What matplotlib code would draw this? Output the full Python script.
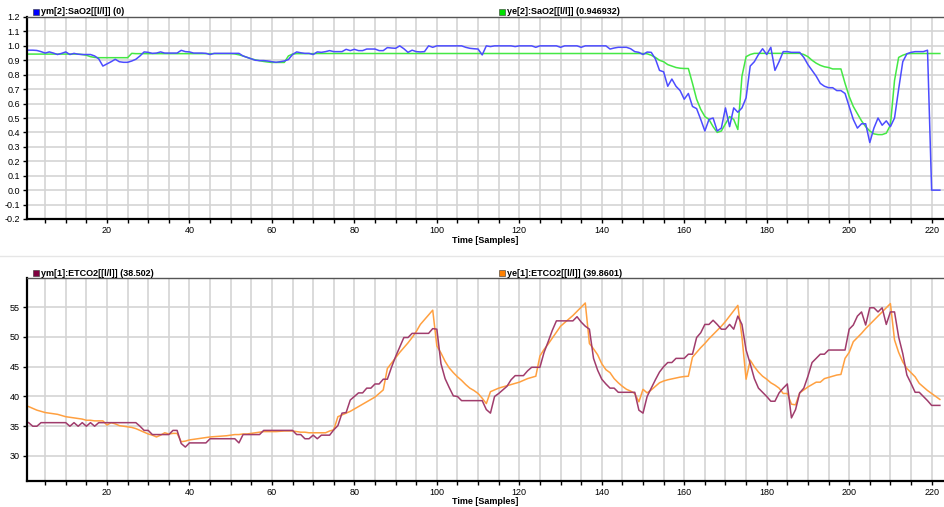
import numpy as np
import matplotlib.pyplot as plt
from matplotlib.patches import Rectangle
from matplotlib.lines import Line2D
from matplotlib.ticker import MultipleLocator, FormatStrFormatter

plt.rcParams['font.family'] = ['Liberation Sans', 'DejaVu Sans']

# sample axis shared by both panels
samples = np.arange(1, 223)

# SaO2 measured (ym[2]) and estimated (ye[2])
sao2_meas = [
    0.97, 0.97, 0.968, 0.96, 0.95, 0.958, 0.95, 0.94, 0.948, 0.958,
    0.94, 0.948, 0.942, 0.94, 0.94, 0.94, 0.93, 0.91, 0.86, 0.875,
    0.89, 0.907, 0.89, 0.886, 0.886, 0.895, 0.907, 0.93, 0.958, 0.955,
    0.948, 0.95, 0.958, 0.95, 0.95, 0.95, 0.95, 0.969, 0.96, 0.958,
    0.95, 0.95, 0.95, 0.948, 0.94, 0.948, 0.948, 0.948, 0.948, 0.948,
    0.948, 0.948, 0.93, 0.92, 0.91, 0.90, 0.898, 0.898, 0.895, 0.89,
    0.886, 0.89, 0.895, 0.905, 0.94, 0.958, 0.952, 0.948, 0.948, 0.94,
    0.958, 0.955, 0.96, 0.967, 0.96, 0.96, 0.96, 0.976, 0.967, 0.976,
    0.967, 0.967, 0.978, 0.978, 0.978, 0.967, 0.967, 0.988, 0.985, 0.983,
    1.0, 0.98, 0.955, 0.97, 0.96, 0.958, 0.96, 1.0, 0.99, 1.0,
    1.0, 1.0, 1.0, 1.0, 1.0, 1.0, 0.99, 0.983, 0.98, 0.978,
    0.937, 1.0, 0.995, 1.0, 1.0, 1.0, 1.0, 1.0, 0.995, 1.0,
    1.0, 1.0, 1.0, 0.99, 1.0, 1.0, 1.0, 1.0, 1.0, 0.99,
    1.0, 1.0, 1.0, 1.0, 0.99, 1.0, 1.0, 1.0, 1.0, 1.0,
    1.0, 0.978, 0.985, 0.99, 0.99, 0.99, 0.98, 0.96, 0.955, 0.94,
    0.957, 0.955, 0.91, 0.83, 0.82, 0.72, 0.77, 0.72, 0.69, 0.63,
    0.67, 0.58, 0.565, 0.49, 0.41, 0.49, 0.50, 0.41, 0.43, 0.57,
    0.44, 0.57, 0.54, 0.57, 0.64, 0.86, 0.89, 0.94, 0.98, 0.94,
    0.99, 0.83, 0.89, 0.96, 0.96, 0.955, 0.955, 0.955, 0.92, 0.87,
    0.83, 0.79, 0.74, 0.72, 0.71, 0.71, 0.69, 0.69, 0.67, 0.58,
    0.49, 0.43, 0.46, 0.46, 0.33, 0.43, 0.50, 0.45, 0.48, 0.44,
    0.50, 0.70, 0.89, 0.945, 0.955, 0.96, 0.96, 0.96, 0.97, 0.0,
    0.0, 0.0,
]
sao2_est = [
    0.943, 0.943, 0.943, 0.943, 0.943, 0.943, 0.943, 0.943, 0.943, 0.943,
    0.943, 0.943, 0.943, 0.94, 0.935, 0.925, 0.92, 0.918, 0.918, 0.918,
    0.918, 0.918, 0.918, 0.918, 0.918, 0.948, 0.946, 0.946, 0.946, 0.946,
    0.946, 0.946, 0.946, 0.946, 0.946, 0.946, 0.946, 0.946, 0.946, 0.946,
    0.946, 0.946, 0.946, 0.946, 0.946, 0.946, 0.946, 0.946, 0.946, 0.946,
    0.944, 0.938, 0.93, 0.92, 0.91, 0.903, 0.897, 0.892, 0.888, 0.885,
    0.885, 0.885, 0.885, 0.93, 0.943, 0.946, 0.946, 0.946, 0.946, 0.946,
    0.947, 0.947, 0.947, 0.947, 0.947, 0.947, 0.947, 0.947, 0.947, 0.947,
    0.947, 0.947, 0.947, 0.947, 0.947, 0.947, 0.947, 0.947, 0.947, 0.947,
    0.947, 0.947, 0.947, 0.947, 0.947, 0.947, 0.947, 0.947, 0.947, 0.947,
    0.947, 0.947, 0.947, 0.947, 0.947, 0.947, 0.947, 0.947, 0.947, 0.947,
    0.947, 0.947, 0.947, 0.947, 0.947, 0.947, 0.947, 0.947, 0.947, 0.947,
    0.947, 0.947, 0.947, 0.947, 0.947, 0.947, 0.947, 0.947, 0.947, 0.947,
    0.947, 0.947, 0.947, 0.947, 0.947, 0.947, 0.947, 0.947, 0.947, 0.947,
    0.947, 0.947, 0.947, 0.947, 0.947, 0.947, 0.947, 0.947, 0.947, 0.947,
    0.945, 0.935, 0.92, 0.90, 0.89, 0.87, 0.86, 0.85, 0.845, 0.843,
    0.843, 0.74, 0.63, 0.56, 0.51, 0.49, 0.44, 0.40, 0.41, 0.46,
    0.51, 0.49, 0.42, 0.79, 0.925, 0.94, 0.948, 0.948, 0.948, 0.948,
    0.948, 0.948, 0.948, 0.948, 0.948, 0.948, 0.948, 0.948, 0.94, 0.925,
    0.90, 0.88, 0.865, 0.855, 0.85, 0.84, 0.84, 0.84, 0.74, 0.65,
    0.58, 0.53, 0.48, 0.44, 0.41, 0.39, 0.385, 0.385, 0.395, 0.45,
    0.76, 0.92, 0.935, 0.945, 0.947, 0.947, 0.947, 0.947, 0.947, 0.947,
    0.947, 0.947,
]

# ETCO2 measured (ym[1]) and estimated (ye[1])
etco2_meas = [
    35.6, 35.0, 35.0, 35.6, 35.6, 35.6, 35.6, 35.6, 35.6, 35.6,
    35.0, 35.6, 35.0, 35.6, 35.0, 35.6, 35.0, 35.6, 35.6, 35.6,
    35.6, 35.6, 35.6, 35.6, 35.6, 35.6, 35.6, 35.0, 34.3, 34.3,
    33.6, 33.6, 33.6, 33.6, 33.6, 34.3, 34.3, 32.1, 31.5, 32.2,
    32.2, 32.2, 32.2, 32.2, 32.9, 32.9, 32.9, 32.9, 32.9, 32.9,
    32.9, 32.2, 33.6, 33.6, 33.6, 33.6, 33.6, 34.3, 34.3, 34.3,
    34.3, 34.3, 34.3, 34.3, 34.3, 33.6, 33.6, 32.9, 32.9, 33.5,
    32.9, 33.5, 33.5, 33.5, 34.4, 35.1, 37.2, 37.3, 39.4, 40.0,
    40.6, 40.6, 41.4, 41.4, 42.1, 42.1, 42.9, 42.9, 44.9, 46.7,
    48.3, 49.9, 49.9, 50.6, 50.6, 50.6, 50.6, 50.6, 51.4, 51.3,
    45.5, 43.0, 41.5, 40.1, 40.0, 39.3, 39.3, 39.3, 39.3, 39.3,
    39.3, 37.8, 37.2, 40.0, 40.5, 41.1, 41.7, 42.8, 43.5, 43.5,
    43.5, 44.3, 44.9, 44.9, 44.9, 47.4, 49.2, 51.1, 52.7, 52.7,
    52.7, 52.7, 52.7, 53.4, 52.5, 51.8, 51.3, 46.4, 44.4, 42.9,
    42.1, 41.4, 41.4, 40.7, 40.7, 40.7, 40.7, 40.7, 37.7, 37.2,
    40.0, 41.4, 42.8, 44.1, 45.0, 45.7, 45.7, 46.4, 46.4, 46.4,
    47.1, 47.1, 49.9, 50.7, 52.1, 52.1, 52.8, 52.1, 51.3, 51.3,
    52.1, 51.3, 53.5, 52.1, 47.8, 45.5, 43.0, 41.4, 40.7, 40.0,
    39.2, 39.2, 40.6, 41.4, 42.1, 36.4, 37.8, 40.6, 41.4, 43.4,
    45.7, 46.4, 47.1, 47.1, 47.8, 47.8, 47.8, 47.8, 47.8, 51.3,
    52.0, 53.5, 54.2, 52.0, 54.9, 54.9, 54.2, 54.9, 52.1, 54.2,
    54.2, 50.0, 47.2, 43.6, 42.2, 40.7, 40.7, 40.0, 39.3, 38.5,
    38.5, 38.5,
]
etco2_est = [
    38.3, 38.0, 37.7, 37.5, 37.3, 37.2, 37.1, 37.0, 36.8, 36.6,
    36.5, 36.4, 36.3, 36.2, 36.0, 36.0, 35.9, 35.9, 35.9, 35.2,
    35.6, 35.4, 35.1, 35.0, 34.9, 34.8, 34.6, 34.3, 34.0, 33.7,
    33.5, 33.2, 33.5, 33.9, 33.7, 33.8, 33.8, 32.4, 32.5, 32.7,
    32.8, 32.9, 33.0, 33.1, 33.2, 33.25, 33.3, 33.35, 33.4, 33.5,
    33.6, 33.6, 33.7, 33.7, 33.8, 33.9, 34.0, 34.1, 34.1, 34.1,
    34.1, 34.15, 34.2, 34.2, 34.2, 34.1, 34.0, 34.0, 33.9, 33.9,
    33.9, 33.9, 33.9, 34.2, 34.4, 36.6, 36.9, 37.2, 37.5, 37.9,
    38.3, 38.7, 39.1, 39.5, 39.9, 40.5, 41.1, 44.7, 45.6, 46.5,
    47.4, 48.2, 49.0, 49.9, 50.9, 52.1, 52.9, 53.7, 54.5, 48.5,
    47.3, 45.9, 44.8, 44.0, 43.3, 42.7, 42.0, 41.4, 41.0, 40.5,
    39.7, 38.8, 40.8, 41.1, 41.4, 41.6, 41.8, 42.0, 42.2, 42.4,
    42.7, 43.0, 43.2, 43.4, 46.8, 47.9, 48.8, 49.8, 50.8, 51.8,
    52.4, 53.0, 53.6, 54.3, 55.0, 55.7, 48.9, 48.0, 47.0, 45.5,
    44.5, 44.0, 43.0, 42.3, 41.7, 41.2, 40.9, 40.5, 39.1, 41.2,
    40.6, 41.1, 41.7, 42.3, 42.6, 42.8, 42.95, 43.1, 43.25, 43.35,
    43.4, 46.6, 47.4, 48.2, 48.9, 49.7, 50.4, 51.1, 51.8, 52.6,
    53.5, 54.4, 55.3, 50.0, 42.9, 46.1, 45.0, 44.1, 43.4, 42.9,
    42.3, 41.9, 41.4, 40.5, 40.5, 38.7, 38.6, 40.6, 41.1, 41.6,
    42.0, 42.4, 42.4, 43.0, 43.2, 43.4, 43.6, 43.7, 46.4, 47.4,
    49.2, 49.9, 50.6, 51.4, 52.1, 52.8, 53.5, 54.2, 54.9, 55.6,
    49.5, 47.4, 45.8, 44.7, 44.0, 43.3, 42.2, 41.6, 41.0, 40.5,
    40.0, 39.5,
]

W, H = 944, 507
fig = plt.figure(figsize=(W / 100, H / 100), dpi=100)
fig.patch.set_facecolor('white')


def px_axes(left, top, right, bottom):
    return fig.add_axes([left / W, 1 - bottom / H, (right - left) / W, (bottom - top) / H])


def style_axes(ax, ylim, ystep, yfmt):
    ax.set_xlim(0.6, 223)
    ax.set_ylim(*ylim)
    ax.xaxis.set_major_locator(MultipleLocator(20))
    ax.xaxis.set_minor_locator(MultipleLocator(5))
    ax.yaxis.set_major_locator(MultipleLocator(ystep))
    ax.yaxis.set_major_formatter(FormatStrFormatter(yfmt))
    ax.grid(True, which='both', axis='x', color='#d4d4d4', lw=1.2)
    ax.grid(True, which='major', axis='y', color='#d4d4d4', lw=1.2)
    ax.set_axisbelow(True)
    ax.tick_params(which='both', direction='out', length=3, width=1,
                   labelsize=6.5, pad=2, colors='black')
    for side in ('left', 'bottom'):
        ax.spines[side].set_linewidth(1.6)
        ax.spines[side].set_color('black')
    ax.spines['top'].set_color('#555555')
    ax.spines['top'].set_linewidth(1.0)
    ax.spines['right'].set_visible(False)
    ax.set_xlabel('Time [Samples]', fontsize=6.5, fontweight='bold', labelpad=1)


def legend_entry(x, y, color, label):
    fig.patches.append(Rectangle((x / W, 1 - (y + 3) / H), 6 / W, 6 / H,
                                 transform=fig.transFigure, facecolor=color,
                                 edgecolor='#333333', lw=0.4))
    fig.text((x + 8) / W, 1 - y / H, label, fontsize=6.5, fontweight='bold',
             va='center', ha='left')


# SaO2 panel
ax1 = px_axes(27, 17, 944, 219)
style_axes(ax1, (-0.2, 1.2), 0.1, '%.1f')
ax1.plot(samples, sao2_est, color='#44e844', lw=1.1)
ax1.plot(samples, sao2_meas, color='#4c4cff', lw=1.1)

# ETCO2 panel
ax2 = px_axes(27, 278, 944, 481)
style_axes(ax2, (25.8, 59.9), 5, '%d')
ax2.xaxis.labelpad = 0
ax2.plot(samples, etco2_est, color='#ffa040', lw=1.1)
ax2.plot(samples, etco2_meas, color='#a03c6c', lw=1.1)

legend_entry(33, 12, '#0000ff', 'ym[2]:SaO2[[l/l]] (0)')
legend_entry(499, 12, '#00e000', 'ye[2]:SaO2[[l/l]] (0.946932)')
legend_entry(33, 273, '#800040', 'ym[1]:ETCO2[[l/l]] (38.502)')
legend_entry(499, 273, '#ff8000', 'ye[1]:ETCO2[[l/l]] (39.8601)')

# thin divider between the two panels
fig.add_artist(Line2D([0, 1], [1 - 256 / H, 1 - 256 / H], transform=fig.transFigure,
                      color='#e6e6e6', lw=1))

fig.savefig('out.png', dpi=100)
